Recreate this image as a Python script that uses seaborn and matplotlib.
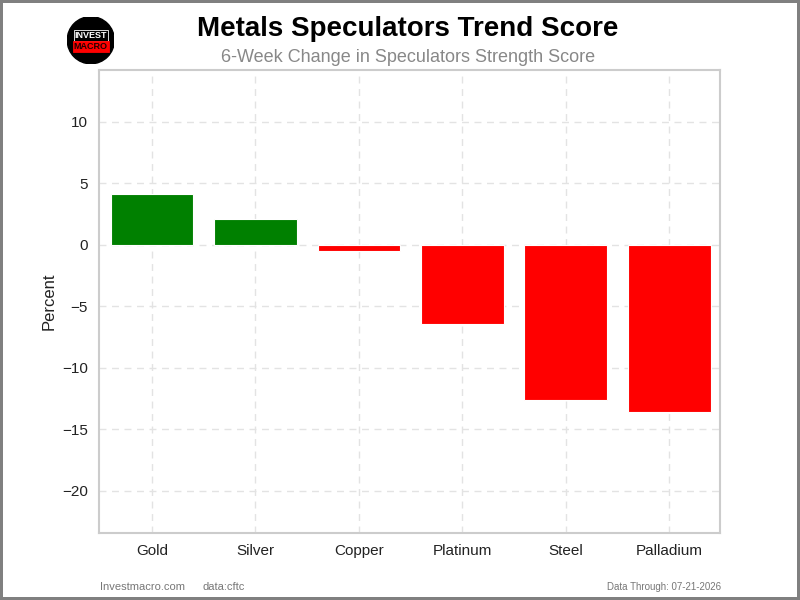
import matplotlib
matplotlib.use('Agg')
import matplotlib.pyplot as plt
import seaborn as sns
import pandas as pd
from matplotlib.patches import Circle

# data
metals = ['Gold', 'Silver', 'Copper', 'Platinum', 'Steel', 'Palladium']
change = [4.1, 2.1, -0.5, -6.4, -12.6, -13.6]
yticks = [-20, -15, -10, -5, 0, 5, 10]

title = 'Metals Speculators Trend Score'
subtitle = '6-Week Change in Speculators Strength Score'
footer_left = 'Investmacro.com'
footer_src = 'data:cftc'
footer_right = 'Data Through: 07-21-2026'

df = pd.DataFrame({'metal': metals, 'change': change})
bar_colors = ['green' if v >= 0 else 'red' for v in change]

sns.set_theme(style='whitegrid')
plt.rcParams['font.family'] = ['Liberation Sans', 'DejaVu Sans']
plt.rcParams['axes.unicode_minus'] = True

fig = plt.figure(figsize=(8, 6), dpi=100)
fig.patch.set_edgecolor('#808080')
fig.patch.set_linewidth(3)

ax = fig.add_axes([0.124, 0.112, 0.776, 0.771])
sns.barplot(data=df, x='metal', y='change', hue='metal', palette=bar_colors,
            legend=False, width=0.8, edgecolor='white', linewidth=0.8,
            saturation=1, ax=ax)

ax.set_xlim(-0.51, 5.49)
ax.set_ylim(-23.4, 14.2)
ax.set_yticks(yticks)
ax.set_xlabel('')
ax.set_ylabel('Percent', fontsize=12, color='#222222')
ax.tick_params(axis='both', labelsize=11, colors='#222222', length=0, pad=8)
ax.grid(True, linestyle=(0, (5, 4)), color='#e3e3e3', linewidth=1)
ax.set_axisbelow(True)
for s in ax.spines.values():
    s.set_color('#cccccc')
    s.set_linewidth(1.5)

fig.text(0.51, 0.952, title, ha='center', va='center', fontsize=20,
         fontweight='bold', color='black')
fig.text(0.51, 0.904, subtitle, ha='center', va='center', fontsize=13,
         color='#888888')

fig.text(0.125, 0.021, footer_left, ha='left', va='center', fontsize=8, color='#777777')
fig.text(0.253, 0.021, footer_src, ha='left', va='center', fontsize=8, color='#777777')
fig.text(0.901, 0.021, footer_right, ha='right', va='center', fontsize=7, color='#777777')

# logo
lax = fig.add_axes([0.084, 0.893, 0.059, 0.08])
lax.set_xlim(-1, 1)
lax.set_ylim(-1, 1)
lax.set_aspect('equal')
lax.axis('off')
lax.add_patch(Circle((0, 0), 1, color='black'))
lax.text(0, 0.2, 'INVEST', ha='center', va='center', color='white', fontsize=6.5,
         fontweight='bold',
         bbox=dict(boxstyle='square,pad=0.1', fc='black', ec='white', lw=0.6))
lax.text(0, -0.27, 'MACRO', ha='center', va='center', color='#220000', fontsize=6.5,
         fontweight='bold',
         bbox=dict(boxstyle='square,pad=0.1', fc='red', ec='red', lw=0.6))

fig.savefig('out.png', dpi=100, edgecolor=fig.get_edgecolor())
